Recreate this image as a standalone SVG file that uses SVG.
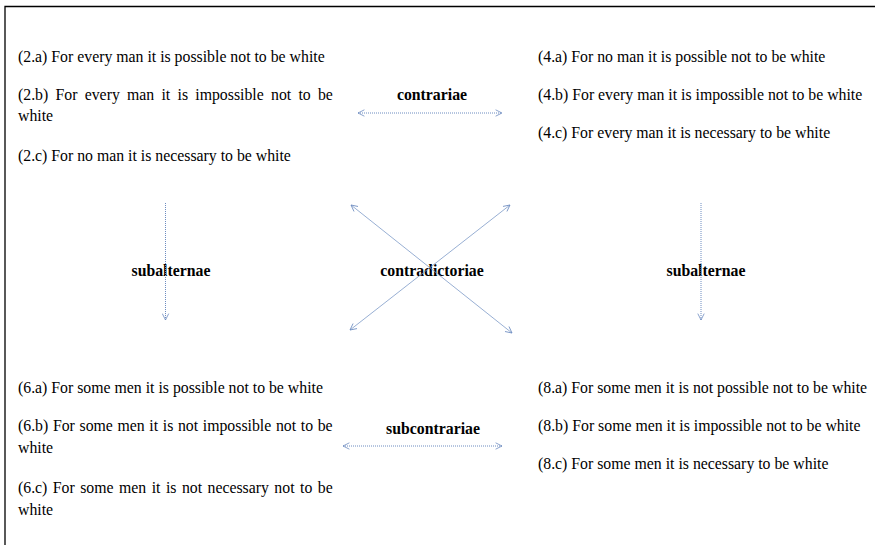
<svg xmlns="http://www.w3.org/2000/svg" width="875" height="545" viewBox="0 0 875 545">
<style>
.t{font-family:"Liberation Serif","Times New Roman",serif;font-size:15.8px;fill:#000}
.b{font-family:"Liberation Serif","Times New Roman",serif;font-size:15.8px;font-weight:bold;fill:#000;text-anchor:middle}
.dot{stroke:#6d8cc0;stroke-width:1;stroke-dasharray:1 1;fill:none}
.sol{stroke:#7e9bc8;stroke-width:0.8;fill:none}
</style>
<defs>
<marker id="ah" viewBox="0 0 10 10" refX="9" refY="5" markerWidth="8" markerHeight="8" markerUnits="userSpaceOnUse" orient="auto-start-reverse">
<path d="M1,1 L9,5 L1,9" fill="none" stroke="#6d8cc0" stroke-width="1"/>
</marker>
</defs>
<rect width="875" height="545" fill="#fff"/>
<path d="M5,545 V6.5 H875" fill="none" stroke="#000" stroke-width="1.3"/>
<g id="n2">
<text class="t" x="18" y="62">(2.a) For every man it is possible not to be white</text>
<text class="t" x="18" y="100" style="word-spacing:3.3px">(2.b) For every man it is impossible not to be</text>
<text class="t" x="18" y="121">white</text>
<text class="t" x="18" y="161">(2.c) For no man it is necessary to be white</text>
</g>
<g id="n4">
<text class="t" x="538" y="62">(4.a) For no man it is possible not to be white</text>
<text class="t" x="538" y="100">(4.b) For every man it is impossible not to be white</text>
<text class="t" x="538" y="138">(4.c) For every man it is necessary to be white</text>
</g>
<g id="n6">
<text class="t" x="18" y="393">(6.a) For some men it is possible not to be white</text>
<text class="t" x="18" y="431" style="word-spacing:0.7px">(6.b) For some men it is not impossible not to be</text>
<text class="t" x="18" y="453">white</text>
<text class="t" x="18" y="493" style="word-spacing:1.5px">(6.c) For some men it is not necessary not to be</text>
<text class="t" x="18" y="515">white</text>
</g>
<g id="n8">
<text class="t" x="538" y="393">(8.a) For some men it is not possible not to be white</text>
<text class="t" x="538" y="431">(8.b) For some men it is impossible not to be white</text>
<text class="t" x="538" y="469">(8.c) For some men it is necessary to be white</text>
</g>
<g id="labels">
<text class="b" x="432" y="100">contrariae</text>
<text class="b" x="432" y="276">contradictoriae</text>
<text class="b" x="171" y="276">subalternae</text>
<text class="b" x="706" y="276">subalternae</text>
<text class="b" x="433" y="434">subcontrariae</text>
</g>
<g id="connectors">
<line class="dot" x1="358" y1="113" x2="502" y2="113" marker-start="url(#ah)" marker-end="url(#ah)"/>
<line class="dot" x1="343" y1="446" x2="502" y2="446" marker-start="url(#ah)" marker-end="url(#ah)"/>
<line class="dot" x1="165.5" y1="203" x2="165.5" y2="320" marker-end="url(#ah)"/>
<line class="dot" x1="701" y1="203" x2="701" y2="320" marker-end="url(#ah)"/>
<line class="sol" x1="351" y1="205" x2="512" y2="333" marker-start="url(#ah)" marker-end="url(#ah)"/>
<line class="sol" x1="510" y1="205" x2="350" y2="330" marker-start="url(#ah)" marker-end="url(#ah)"/>
</g>
</svg>
